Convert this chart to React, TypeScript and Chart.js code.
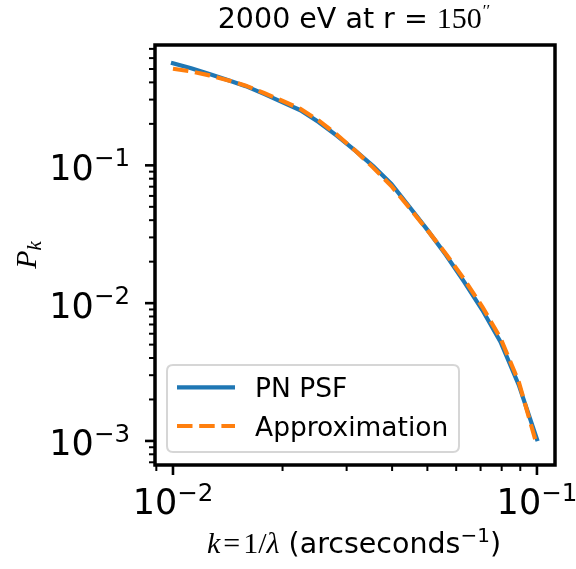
import React, { useEffect, useRef } from "react";
import { Chart, registerables } from "chart.js";

Chart.register(...registerables);

// ---- data ----
const K_VALUES = [
  0.01, 0.01122, 0.01259, 0.01413, 0.01585, 0.01778, 0.01995, 0.02239, 0.02512, 0.02818,
  0.03162, 0.03548, 0.03981, 0.04467, 0.05012, 0.05623, 0.0631, 0.07079, 0.07943, 0.08913, 0.1,
];
const PSF_VALUES = [
  0.55, 0.506, 0.46, 0.416, 0.3754, 0.33, 0.2877, 0.2512, 0.2065, 0.1644,
  0.1282, 0.0987, 0.0734, 0.0499, 0.03373, 0.02234, 0.01428, 0.00891, 0.00523, 0.00255, 0.00103,
];
const APPROX_VALUES = [
  0.502, 0.48, 0.45, 0.415, 0.3789, 0.335, 0.2944, 0.2566, 0.2118, 0.1671,
  0.1285, 0.0964, 0.0708, 0.049, 0.03357, 0.02275, 0.01489, 0.00941, 0.00556, 0.00268, 0.000929,
];
const SERIES_LABELS = ["PN PSF", "Approximation"];
const SERIES_COLORS = ["#1f77b4", "#ff7f0e"];

const X_MIN = 0.008925;
const X_MAX = 0.1121;
const Y_MIN = 0.000669;
const Y_MAX = 0.747;

const X_MAJOR = [0.01, 0.1];
const X_MAJOR_EXP = ["\u22122", "\u22121"];
const Y_MAJOR = [0.001, 0.01, 0.1];
const Y_MAJOR_EXP = ["\u22123", "\u22122", "\u22121"];
const DECADES = [0.0001, 0.001, 0.01, 0.1];
const MINOR_MULTS = [2, 3, 4, 5, 6, 7, 8, 9];

const TITLE_SANS = "2000 eV at r = ";
const TITLE_MATH = "150";
const TITLE_PRIME = "\u2032\u2032";
const X_TITLE_SANS = " (arcseconds";
const X_TITLE_EXP = "\u22121";
const Y_TITLE_MAIN = "P";
const Y_TITLE_SUB = "k";

const SANS = "'DejaVu Sans'";
const SERIF = "'Liberation Serif', 'DejaVu Serif', serif";

type Part = { text: string; font: string; dy?: number; dx?: number };

function drawParts(ctx: CanvasRenderingContext2D, parts: Part[], x: number, y: number, align: "left" | "center" | "right") {
  let total = 0;
  const widths = parts.map((p) => {
    ctx.font = p.font;
    const w = ctx.measureText(p.text).width + (p.dx || 0);
    total += w;
    return w;
  });
  let cx = align === "left" ? x : align === "center" ? x - total / 2 : x - total;
  ctx.textAlign = "left";
  ctx.textBaseline = "alphabetic";
  parts.forEach((p, i) => {
    ctx.font = p.font;
    ctx.fillText(p.text, cx + (p.dx || 0), y + (p.dy || 0));
    cx += widths[i];
  });
}

function powParts(exp: string): Part[] {
  return [
    { text: "10", font: `35px ${SANS}` },
    { text: exp, font: `24.5px ${SANS}`, dy: -13.5 },
  ];
}

const decorPlugin = {
  id: "decor",
  afterDraw(chart: any) {
    const { ctx, chartArea: a, scales } = chart;
    const xs = scales.x;
    const ys = scales.y;
    ctx.save();
    ctx.strokeStyle = "#000";
    ctx.fillStyle = "#000";
    ctx.lineCap = "butt";

    const xTick = (v: number, len: number, w: number) => {
      const px = xs.getPixelForValue(v);
      ctx.lineWidth = w;
      ctx.beginPath();
      ctx.moveTo(px, a.bottom);
      ctx.lineTo(px, a.bottom + len);
      ctx.stroke();
    };
    const yTick = (v: number, len: number, w: number) => {
      const py = ys.getPixelForValue(v);
      ctx.lineWidth = w;
      ctx.beginPath();
      ctx.moveTo(a.left, py);
      ctx.lineTo(a.left - len, py);
      ctx.stroke();
    };

    DECADES.forEach((d) => {
      MINOR_MULTS.forEach((m) => {
        const v = d * m;
        if (v >= X_MIN && v <= X_MAX) xTick(v, 6, 2);
        if (v >= Y_MIN && v <= Y_MAX) yTick(v, 6, 2);
      });
    });
    X_MAJOR.forEach((v) => xTick(v, 10, 2.6));
    Y_MAJOR.forEach((v) => yTick(v, 10, 2.6));

    // frame
    ctx.lineWidth = 3.5;
    ctx.lineJoin = "miter";
    ctx.strokeRect(a.left, a.top, a.right - a.left, a.bottom - a.top);

    // tick labels
    X_MAJOR.forEach((v, i) => {
      drawParts(ctx, powParts(X_MAJOR_EXP[i]), xs.getPixelForValue(v), 514, "center");
    });
    Y_MAJOR.forEach((v, i) => {
      drawParts(ctx, powParts(Y_MAJOR_EXP[i]), 130, ys.getPixelForValue(v) + 14.5, "right");
    });

    // title
    drawParts(
      ctx,
      [
        { text: TITLE_SANS, font: `28.5px ${SANS}` },
        { text: TITLE_MATH, font: `30px ${SERIF}` },
        { text: TITLE_PRIME, font: `17px ${SERIF}`, dy: -12, dx: 1 },
      ],
      354,
      28,
      "center"
    );

    // x title
    drawParts(
      ctx,
      [
        { text: "k", font: `italic 30px ${SERIF}` },
        { text: "=", font: `30px ${SERIF}`, dx: 3 },
        { text: "1/", font: `30px ${SERIF}`, dx: 3 },
        { text: "\u03bb", font: `italic 30px ${SERIF}` },
        { text: X_TITLE_SANS, font: `28.5px ${SANS}` },
        { text: X_TITLE_EXP, font: `20px ${SANS}`, dy: -11.5 },
        { text: ")", font: `28.5px ${SANS}` },
      ],
      354,
      553,
      "center"
    );

    // y title
    ctx.save();
    ctx.translate(36, 255);
    ctx.rotate(-Math.PI / 2);
    drawParts(
      ctx,
      [
        { text: Y_TITLE_MAIN, font: `italic 30px ${SERIF}` },
        { text: Y_TITLE_SUB, font: `italic 21px ${SERIF}`, dy: 5 },
      ],
      0,
      0,
      "center"
    );
    ctx.restore();

    // legend
    const lx = 167, ly = 365, lw = 292, lh = 87, r = 6;
    ctx.beginPath();
    ctx.moveTo(lx + r, ly);
    ctx.lineTo(lx + lw - r, ly);
    ctx.quadraticCurveTo(lx + lw, ly, lx + lw, ly + r);
    ctx.lineTo(lx + lw, ly + lh - r);
    ctx.quadraticCurveTo(lx + lw, ly + lh, lx + lw - r, ly + lh);
    ctx.lineTo(lx + r, ly + lh);
    ctx.quadraticCurveTo(lx, ly + lh, lx, ly + lh - r);
    ctx.lineTo(lx, ly + r);
    ctx.quadraticCurveTo(lx, ly, lx + r, ly);
    ctx.closePath();
    ctx.fillStyle = "rgba(255,255,255,0.8)";
    ctx.fill();
    ctx.strokeStyle = "#d6d6d6";
    ctx.lineWidth = 2;
    ctx.stroke();

    const rows = [387.3, 426];
    rows.forEach((yy, i) => {
      ctx.strokeStyle = SERIES_COLORS[i];
      ctx.lineWidth = 4.2;
      ctx.lineCap = "butt";
      ctx.setLineDash(i === 1 ? [15.5, 6.7] : []);
      ctx.beginPath();
      ctx.moveTo(177, yy);
      ctx.lineTo(235, yy);
      ctx.stroke();
      ctx.setLineDash([]);
      ctx.fillStyle = "#000";
      ctx.font = `26.5px ${SANS}`;
      ctx.textAlign = "left";
      ctx.textBaseline = "alphabetic";
      ctx.fillText(SERIES_LABELS[i], 255, yy + 9.5);
    });

    ctx.restore();
  },
};

export default function App() {
  const ref = useRef<HTMLCanvasElement | null>(null);

  useEffect(() => {
    if (!ref.current) return;
    const chart = new Chart(ref.current, {
      type: "line",
      data: {
        datasets: [
          {
            label: SERIES_LABELS[0],
            data: K_VALUES.map((k, i) => ({ x: k, y: PSF_VALUES[i] })),
            borderColor: SERIES_COLORS[0],
            backgroundColor: SERIES_COLORS[0],
            borderWidth: 4.2,
            borderCapStyle: "square",
            pointRadius: 0,
            tension: 0,
            fill: false,
            order: 1,
          },
          {
            label: SERIES_LABELS[1],
            data: K_VALUES.map((k, i) => ({ x: k, y: APPROX_VALUES[i] })),
            borderColor: SERIES_COLORS[1],
            backgroundColor: SERIES_COLORS[1],
            borderWidth: 4.2,
            borderDash: [15.5, 6.7],
            borderCapStyle: "butt",
            pointRadius: 0,
            tension: 0,
            fill: false,
            order: 0,
          },
        ],
      },
      options: {
        responsive: false,
        animation: false,
        events: [],
        layout: { padding: { left: 155, right: 21, top: 45, bottom: 104 } },
        plugins: { legend: { display: false }, tooltip: { enabled: false }, title: { display: false } },
        scales: {
          x: { type: "logarithmic", display: false, min: X_MIN, max: X_MAX },
          y: { type: "logarithmic", display: false, min: Y_MIN, max: Y_MAX },
        },
      },
      plugins: [decorPlugin],
    });
    return () => chart.destroy();
  }, []);

  return (
    <div style={{ position: "fixed", left: 0, top: 0, width: 576, height: 569, background: "#fff" }}>
      <canvas ref={ref} width={576} height={569} style={{ display: "block", width: 576, height: 569 }} />
    </div>
  );
}
